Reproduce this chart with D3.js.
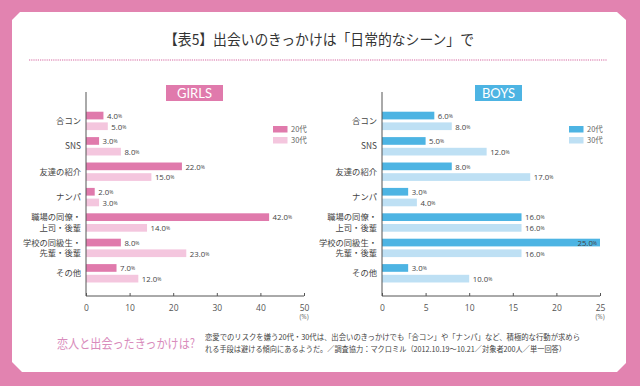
<!DOCTYPE html>
<html><head><meta charset="utf-8">
<script src="https://cdn.jsdelivr.net/npm/d3@7"></script>
<style>html,body{margin:0;padding:0;background:#e283b0;}svg{display:block;}</style>
</head><body>
<svg id="c" width="640" height="386"></svg>
<script>
const categories = ["合コン","SNS","友達の紹介","ナンパ","職場の同僚・\n上司・後輩","学校の同級生・\n先輩・後輩","その他"];
const seriesNames = ["20代","30代"];
const girls20 = [4,3,22,2,42,8,7];
const girls30 = [5,8,15,3,14,23,12];
const boys20 = [6,5,8,3,16,25,3];
const boys30 = [8,12,17,4,16,16,10];
const girlsTicks = [0,10,20,30,40,50];
const boysTicks = [0,5,10,15,20,25];
const titleText = "【表5】出会いのきっかけは「日常的なシーン」で";
const noteHead = "恋人と出会ったきっかけは?";
const noteLines = ["恋愛でのリスクを嫌う20代・30代は、出会いのきっかけでも「合コン」や「ナンパ」など、積極的な行動が求めら",
                   "れる手段は避ける傾向にあるようだ。／調査協力：マクロミル（2012.10.19〜10.21／対象者200人／単一回答）"];

const JP = "'Noto Sans CJK JP','Noto Sans',sans-serif";
const svg = d3.select("#c");
svg.append("rect").attr("width",640).attr("height",386).attr("fill","#e283b0");
svg.append("polygon")
  .attr("points","12,20 20,12 617,12 626,20 626,363 617,372 22,372 12,362")
  .attr("fill","#ffffff");

svg.append("text").attr("x",319).attr("y",45).attr("text-anchor","middle")
  .attr("font-family",JP).attr("font-size",14.5).attr("fill","#333")
  .attr("textLength",310).attr("lengthAdjust","spacingAndGlyphs").text(titleText);
svg.append("line").attr("x1",29).attr("x2",607).attr("y1",60).attr("y2",60)
  .attr("stroke","#eab3d0").attr("stroke-width",2).attr("stroke-dasharray","1.2,1");

function panel(opt){
  const g = svg.append("g");
  const x = d3.scaleLinear().domain([0, opt.ticks[opt.ticks.length-1]]).range([opt.x0, opt.x0+218]);
  const y = d3.scaleBand().domain(categories).range([108.2, 108.2+7*25.4]).paddingInner(0.276).paddingOuter(0.138);
  const ys = d3.scaleBand().domain(seriesNames).range([0, y.bandwidth()]).paddingInner(0.28);
  const colors = {"20代":opt.c1,"30代":opt.c2};
  const data = [];
  categories.forEach((c,i)=>{ data.push({c, s:"20代", v:opt.v1[i]}); data.push({c, s:"30代", v:opt.v2[i]}); });

  g.selectAll("rect.bar").data(data).join("rect").attr("class","bar")
    .attr("x",x(0)).attr("y",d=>y(d.c)+ys(d.s)).attr("width",d=>x(d.v)-x(0))
    .attr("height",ys.bandwidth()).attr("fill",d=>colors[d.s]);

  g.selectAll("text.val").data(data).join("text").attr("class","val")
    .attr("font-family","'Open Sans',sans-serif").attr("fill","#444").attr("font-size",7.8)
    .attr("dominant-baseline","central")
    .attr("y",d=>y(d.c)+ys(d.s)+ys.bandwidth()/2+0.3)
    .each(function(d){
      const inside = x(d.v)+25 > x.range()[1]+5;
      const t = d3.select(this);
      t.attr("x", inside ? x(d.v)-3 : x(d.v)+3.5).attr("text-anchor", inside ? "end":"start");
      t.append("tspan").text(d.v.toFixed(1));
      t.append("tspan").attr("font-size",5).text("%");
    });

  g.selectAll("text.cat").data(categories).join("text").attr("class","cat")
    .attr("font-family",JP).attr("font-size",8.3).attr("fill","#444").attr("text-anchor","end")
    .each(function(c){
      const lines = c.split("\n");
      const cy = y(c)+y.bandwidth()/2;
      const t = d3.select(this);
      lines.forEach((l,k)=>{
        t.append("tspan").attr("x",opt.x0-5).attr("y", cy + (k-(lines.length-1)/2)*10.5 + 3).text(l);
      });
    });

  g.append("line").attr("x1",x(0)).attr("x2",x(0)).attr("y1",92).attr("y2",296).attr("stroke","#555").attr("stroke-width",1);
  const ax = d3.axisBottom(x).tickValues(opt.ticks).tickSize(-3).tickPadding(9).tickFormat(d3.format("d"));
  const axg = g.append("g").attr("transform","translate(0,296)").call(ax);
  axg.select(".domain").attr("stroke","#555").attr("d",`M${x(0)},0H${x.range()[1]}`);
  axg.selectAll(".tick line").attr("stroke","#555");
  axg.selectAll(".tick text").attr("font-family","'Open Sans',sans-serif").attr("font-size",8.5).attr("fill","#555");
  g.append("text").attr("x",x.range()[1]).attr("y",319).attr("text-anchor","middle")
    .attr("font-family","'Open Sans',sans-serif").attr("font-size",6.5).attr("fill","#666").text("(%)");

  g.append("rect").attr("x",opt.bx).attr("y",85).attr("width",opt.bw).attr("height",16).attr("fill",opt.c1);
  g.append("text").attr("x",opt.bx+opt.bw/2).attr("y",98).attr("text-anchor","middle")
    .attr("font-family","Lato,sans-serif").attr("font-size",13).attr("fill","#fff").text(opt.name);

  seriesNames.forEach((s,k)=>{
    g.append("rect").attr("x",opt.lx).attr("y",126+k*11).attr("width",14.5).attr("height",6.5).attr("fill",colors[s]);
    g.append("text").attr("x",opt.lx+18).attr("y",132+k*11).attr("font-family",JP).attr("font-size",7.5)
      .attr("fill","#666").text(s);
  });
}

panel({name:"GIRLS", x0:86, ticks:girlsTicks, v1:girls20, v2:girls30, c1:"#e07aac", c2:"#f4c6de", bx:166, bw:57, lx:273});
panel({name:"BOYS", x0:382, ticks:boysTicks, v1:boys20, v2:boys30, c1:"#4db4e3", c2:"#bee0f4", bx:475, bw:47, lx:569});

svg.append("text").attr("x",57).attr("y",348).attr("font-family",JP).attr("font-size",13)
  .attr("fill","#d98cbc").attr("textLength",138).attr("lengthAdjust","spacingAndGlyphs").text(noteHead);
noteLines.forEach((l,k)=>{
  svg.append("text").attr("x",205).attr("y",339.5+k*12.5).attr("font-family",JP).attr("font-size",7.6)
    .attr("fill","#444").attr("textLength", k===0?375:361).attr("lengthAdjust","spacingAndGlyphs").text(l);
});
</script>
</body></html>
